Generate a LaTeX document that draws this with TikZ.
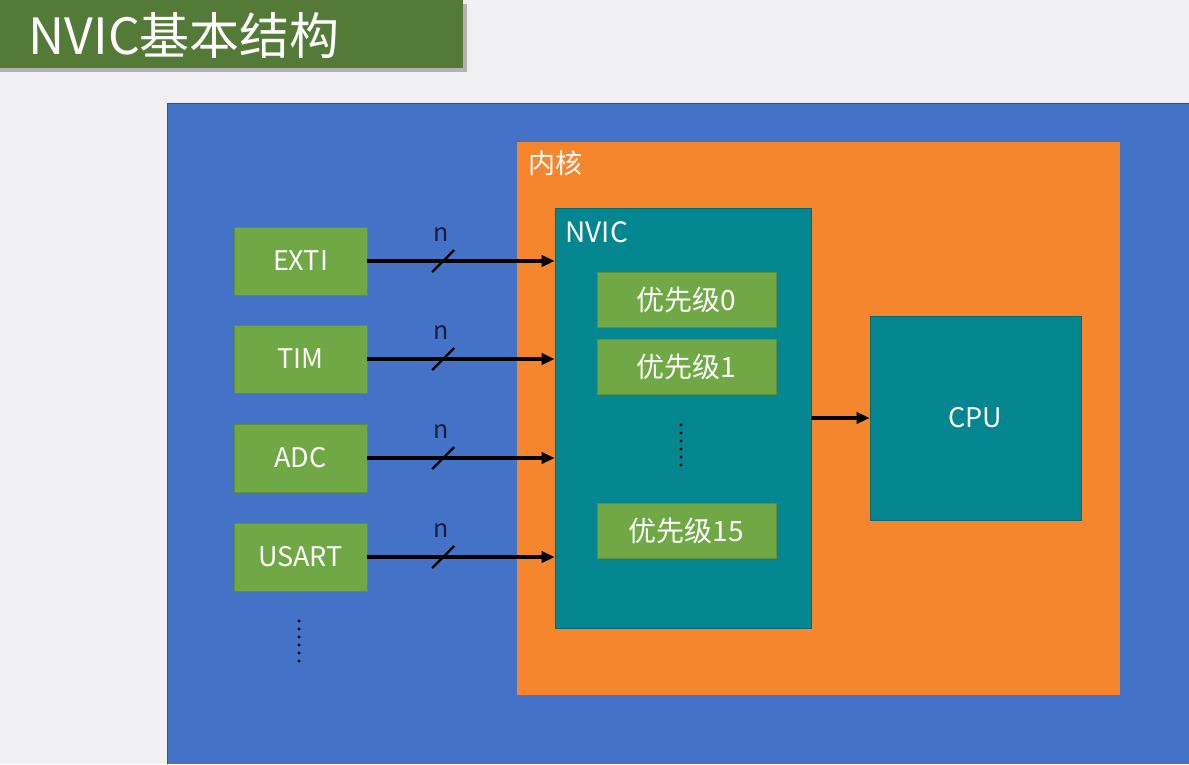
\documentclass[tikz,border=0pt]{standalone}
\usepackage{fontspec}
\setmainfont{Noto Sans CJK SC}
\usetikzlibrary{arrows.meta,calc}
\definecolor{pagegray}{RGB}{240,240,242}
\definecolor{titlegreen}{RGB}{84,122,56}
\definecolor{chipblue}{RGB}{68,114,198}
\definecolor{coreorange}{RGB}{245,134,46}
\definecolor{nvicteal}{RGB}{3,134,143}
\definecolor{srcgreen}{RGB}{111,168,69}
\definecolor{labelnavy}{RGB}{20,32,62}

\tikzset{
  srcbox/.style={fill=srcgreen, draw=srcgreen!85!black, line width=0.6pt, text=white,
    minimum width=133pt, minimum height=68pt, inner sep=0pt, font=\fontsize{27}{30}\selectfont},
  prio/.style={srcbox, minimum width=179pt, minimum height=55pt, font=\fontsize{28}{30}\selectfont},
  tealbox/.style={fill=nvicteal, draw=nvicteal!80!black, line width=0.6pt, text=white,
    inner sep=0pt, font=\fontsize{27}{30}\selectfont},
  sig/.style={line width=3.4pt, -{Triangle[length=13pt,width=11pt]}},
  bus/.style={line width=2.4pt},
  vdots/.style={line width=3.4pt, line cap=round, dash pattern=on 0pt off 8pt}
}

\begin{document}
\begin{tikzpicture}[x=1pt, y=-1pt]
    \useasboundingbox (0,0) rectangle (1189,764);
    \fill[pagegray] (0,0) rectangle (1189,764);
    % title bar
    \fill[black!30] (0,4) rectangle (467,72);
    \fill[titlegreen] (0,0) rectangle (463,68);
    \node[anchor=west, text=white, font=\fontsize{50}{54}\selectfont] (title) at (25,35) {NVIC基本结构};
    % chip and core
    \fill[chipblue] (167,103) rectangle (1189,764);
    \draw[chipblue!70!black, line width=1pt] (167,764) -- (167,103) -- (1189,103);
    \fill[coreorange] (517,142) rectangle (1120,695);
    \node[anchor=west, text=white, font=\fontsize{27}{30}\selectfont] (core) at (525,163) {内核};
    % NVIC with priorities
    \node[tealbox, minimum width=256pt, minimum height=420pt] (nvic) at (683,418) {};
    \node[anchor=west, text=white, font=\fontsize{28}{30}\selectfont] (nviclabel) at (562,232) {NVIC};
    \node[prio] (p0) at (686.5,299.5) {优先级0};
    \node[prio] (p1) at (686.5,366.5) {优先级1};
    \node[prio] (p15) at (686.5,531) {优先级15};
    \draw[vdots] (681,425) -- (681,470);
    % CPU
    \node[tealbox, minimum width=211pt, minimum height=204pt] (cpu) at (975.5,418) {CPU};
    \draw[sig] (nvic.east) -- (cpu.west);
    % interrupt sources
    \node[srcbox] (exti) at (300.5,261) {EXTI};
    \node[srcbox] (tim) at (300.5,359) {TIM};
    \node[srcbox] (adc) at (300.5,458) {ADC};
    \node[srcbox] (usart) at (300.5,557) {USART};
    \draw[vdots] (299,621) -- (299,668);
    \foreach \src in {exti,tim,adc,usart} {
        \draw[sig] (\src.east) -- coordinate[pos=0.405] (\src-bus) (\src.east -| nvic.west);
        \draw[bus] ($(\src-bus)+(-11,11)$) -- ($(\src-bus)+(11,-11)$);
        \node[text=labelnavy, font=\fontsize{25}{28}\selectfont] at ($(\src-bus)+(-2,-26)$) {n};
    }
\end{tikzpicture}
\end{document}
